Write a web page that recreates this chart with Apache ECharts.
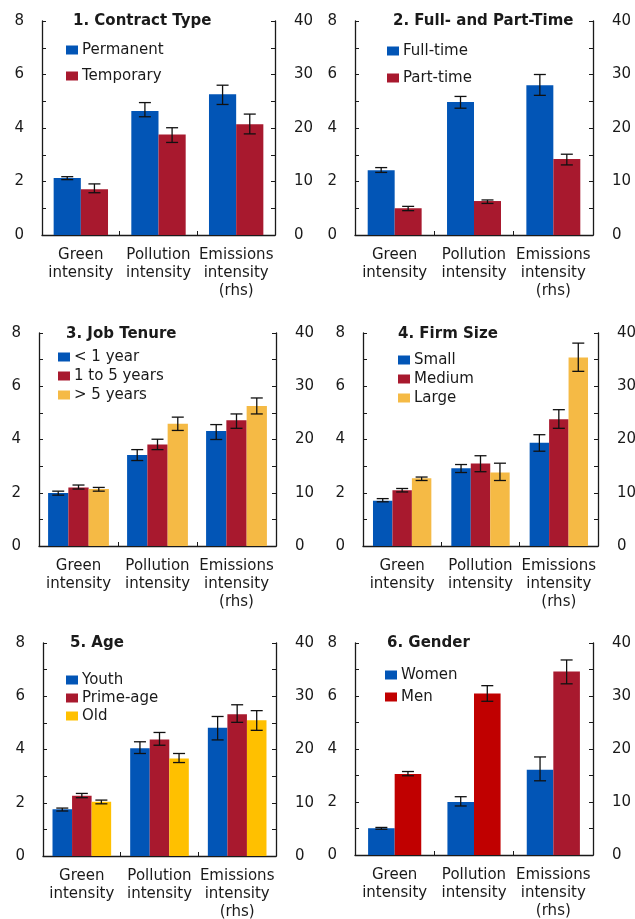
<!DOCTYPE html>
<html>
<head>
<meta charset="utf-8">
<script src="https://cdn.jsdelivr.net/npm/echarts@6/dist/echarts.min.js"></script>
<style>
  html, body { margin: 0; padding: 0; background: #ffffff; }
  #chart { width: 635px; height: 919px; }
</style>
</head>
<body>
<div id="chart"></div>
<script>
const categories = ['Green\nintensity', 'Pollution\nintensity', 'Emissions\nintensity\n(rhs)'];
const lhsTicks = [0, 2, 4, 6, 8];
const rhsTicks = [0, 10, 20, 30, 40];

// 1. Contract type (mean, lower and upper bound of the confidence band)
const permanentMean = [2.13, 4.64, 26.3];
const permanentLow  = [2.07, 4.42, 24.4];
const permanentHigh = [2.18, 4.95, 28.0];
const temporaryMean = [1.71, 3.76, 20.7];
const temporaryLow  = [1.58, 3.46, 18.9];
const temporaryHigh = [1.91, 4.01, 22.6];

// 2. Full- and part-time
const fullTimeMean = [2.42, 4.97, 28.0];
const fullTimeLow  = [2.34, 4.74, 26.1];
const fullTimeHigh = [2.52, 5.18, 30.0];
const partTimeMean = [1.00, 1.27, 14.2];
const partTimeLow  = [0.91, 1.18, 13.1];
const partTimeHigh = [1.07, 1.31, 15.1];

// 3. Job tenure
const under1Mean = [1.99, 3.42, 21.6];
const under1Low  = [1.91, 3.21, 20.0];
const under1High = [2.06, 3.62, 22.8];
const oneTo5Mean = [2.20, 3.81, 23.6];
const oneTo5Low  = [2.14, 3.62, 22.1];
const oneTo5High = [2.29, 4.01, 24.8];
const over5Mean  = [2.14, 4.59, 26.3];
const over5Low   = [2.06, 4.34, 24.8];
const over5High  = [2.20, 4.84, 27.8];

// 4. Firm size
const smallMean  = [1.70, 2.92, 19.4];
const smallLow   = [1.66, 2.76, 17.8];
const smallHigh  = [1.78, 3.06, 20.9];
const mediumMean = [2.09, 3.10, 23.8];
const mediumLow  = [2.03, 2.79, 22.1];
const mediumHigh = [2.16, 3.39, 25.6];
const largeMean  = [2.54, 2.76, 35.4];
const largeLow   = [2.46, 2.46, 32.8];
const largeHigh  = [2.59, 3.11, 38.1];

// 5. Age
const youthMean = [1.76, 4.05, 24.1];
const youthLow  = [1.69, 3.85, 21.8];
const youthHigh = [1.80, 4.29, 26.2];
const primeMean = [2.26, 4.38, 26.6];
const primeLow  = [2.19, 4.16, 25.1];
const primeHigh = [2.35, 4.64, 28.4];
const oldMean   = [2.04, 3.66, 25.5];
const oldLow    = [1.96, 3.51, 23.6];
const oldHigh   = [2.10, 3.85, 27.3];

// 6. Gender
const womenMean = [1.01, 2.00, 16.1];
const womenLow  = [0.97, 1.85, 14.0];
const womenHigh = [1.04, 2.20, 18.5];
const menMean   = [3.06, 6.09, 34.6];
const menLow    = [2.99, 5.80, 32.3];
const menHigh   = [3.15, 6.39, 36.8];

const panels = [
  { title: '1. Contract Type', groups: [
    { name: 'Permanent', mean: permanentMean, low: permanentLow, high: permanentHigh },
    { name: 'Temporary', mean: temporaryMean, low: temporaryLow, high: temporaryHigh }
  ]},
  { title: '2. Full- and Part-Time', groups: [
    { name: 'Full-time', mean: fullTimeMean, low: fullTimeLow, high: fullTimeHigh },
    { name: 'Part-time', mean: partTimeMean, low: partTimeLow, high: partTimeHigh }
  ]},
  { title: '3. Job Tenure', groups: [
    { name: '< 1 year', mean: under1Mean, low: under1Low, high: under1High },
    { name: '1 to 5 years', mean: oneTo5Mean, low: oneTo5Low, high: oneTo5High },
    { name: '> 5 years', mean: over5Mean, low: over5Low, high: over5High }
  ]},
  { title: '4. Firm Size', groups: [
    { name: 'Small', mean: smallMean, low: smallLow, high: smallHigh },
    { name: 'Medium', mean: mediumMean, low: mediumLow, high: mediumHigh },
    { name: 'Large', mean: largeMean, low: largeLow, high: largeHigh }
  ]},
  { title: '5. Age', groups: [
    { name: 'Youth', mean: youthMean, low: youthLow, high: youthHigh },
    { name: 'Prime-age', mean: primeMean, low: primeLow, high: primeHigh },
    { name: 'Old', mean: oldMean, low: oldLow, high: oldHigh }
  ]},
  { title: '6. Gender', groups: [
    { name: 'Women', mean: womenMean, low: womenLow, high: womenHigh },
    { name: 'Men', mean: menMean, low: menLow, high: menHigh }
  ]}
];

// ---- styling ----
const FONT = 'DejaVu Sans';
const INK = '#1a1a1a';
const BLUE = '#0255B6';
const RED = '#A8192E';
const AMBER = '#F5BA45';
const GOLD = '#FFC000';
const BRIGHT_RED = '#C00000';

// colours for the left-axis bars and for the right-axis (emissions) bars
const lhsColours = [[BLUE, RED], [BLUE, RED], [BLUE, RED, AMBER], [BLUE, RED, AMBER], [BLUE, RED, GOLD], [BLUE, BRIGHT_RED]];
const rhsColours = [[BLUE, RED], [BLUE, RED], [BLUE, RED, AMBER], [BLUE, RED, AMBER], [BLUE, RED, GOLD], [BLUE, RED]];

const frames = [
  { left: 42,  top: 21,  width: 233, height: 214, titleLeft: 73,  titleTop: 12,  legendLeft: 66,  legendTop: 42,  legendGap: 10, catGap: 0.30 },
  { left: 355, top: 21,  width: 238, height: 214, titleLeft: 393, titleTop: 12,  legendLeft: 387, legendTop: 43,  legendGap: 11, catGap: 0.32 },
  { left: 39,  top: 333, width: 237, height: 213, titleLeft: 66,  titleTop: 325, legendLeft: 58,  legendTop: 349, legendGap: 3,  catGap: 0.23 },
  { left: 363, top: 333, width: 235, height: 213, titleLeft: 398, titleTop: 325, legendLeft: 398, legendTop: 352, legendGap: 3,  catGap: 0.255 },
  { left: 43,  top: 643, width: 233, height: 213, titleLeft: 70,  titleTop: 634, legendLeft: 66,  legendTop: 672, legendGap: 2,  catGap: 0.245 },
  { left: 355, top: 643, width: 238, height: 212, titleLeft: 387, titleTop: 634, legendLeft: 385, legendTop: 667, legendGap: 6,  catGap: 0.33 }
];

const axisLineStyle = { color: INK, width: 1.3 };
const labelStyle = { fontFamily: FONT, fontSize: 15, color: INK };

const grids = [], xAxes = [], yAxes = [], titles = [], legends = [], series = [];

panels.forEach((panel, pi) => {
  const f = frames[pi];
  const n = panel.groups.length;

  grids.push({ left: f.left, top: f.top, width: f.width, height: f.height, containLabel: false, outerBoundsMode: 'none' });

  xAxes.push({
    type: 'category', gridIndex: pi, data: categories,
    axisLine: { show: true, lineStyle: axisLineStyle },
    axisTick: { show: true, inside: true, length: 4, lineStyle: { color: INK } },
    axisLabel: Object.assign({ interval: 0, margin: 11, lineHeight: 18 }, labelStyle),
    splitLine: { show: false }
  });

  yAxes.push({
    type: 'value', gridIndex: pi, position: 'left',
    min: lhsTicks[0], max: lhsTicks[lhsTicks.length - 1], interval: 1,
    axisLine: { show: true, lineStyle: axisLineStyle },
    axisTick: { show: true, inside: true, length: 4, lineStyle: { color: INK } },
    axisLabel: Object.assign({ margin: 18, formatter: v => (lhsTicks.includes(v) ? String(v) : '') }, labelStyle),
    splitLine: { show: false }
  });
  yAxes.push({
    type: 'value', gridIndex: pi, position: 'right',
    min: rhsTicks[0], max: rhsTicks[rhsTicks.length - 1], interval: 5,
    axisLine: { show: true, lineStyle: axisLineStyle },
    axisTick: { show: true, inside: true, length: 4, lineStyle: { color: INK } },
    axisLabel: Object.assign({ margin: 19, formatter: v => (rhsTicks.includes(v) ? String(v) : '') }, labelStyle),
    splitLine: { show: false }
  });

  titles.push({
    text: panel.title, left: f.titleLeft, top: f.titleTop, padding: 0,
    textStyle: { fontFamily: FONT, fontSize: 15, fontWeight: 'bold', color: INK, lineHeight: 18 }
  });

  legends.push({
    data: panel.groups.map(g => g.name),
    orient: 'vertical', left: f.legendLeft, top: f.legendTop, padding: 0,
    itemGap: f.legendGap, itemWidth: 12, itemHeight: 9, icon: 'rect',
    selectedMode: false,
    textStyle: { fontFamily: FONT, fontSize: 15, color: INK, lineHeight: 16, padding: [0, 0, 0, -1] }
  });

  panel.groups.forEach((g, gi) => {
    const stack = 'p' + pi + 'g' + gi;
    // green and pollution intensity on the left axis
    series.push({
      type: 'bar', name: g.name, xAxisIndex: pi, yAxisIndex: 2 * pi, stack: stack,
      data: [g.mean[0], g.mean[1], '-'],
      barGap: 0, barCategoryGap: (f.catGap * 100) + '%',
      itemStyle: { color: lhsColours[pi][gi] }, silent: true
    });
    // emissions intensity on the right axis
    series.push({
      type: 'bar', name: g.name, xAxisIndex: pi, yAxisIndex: 2 * pi + 1, stack: stack,
      data: ['-', '-', g.mean[2]],
      barGap: 0, barCategoryGap: (f.catGap * 100) + '%',
      itemStyle: { color: rhsColours[pi][gi] }, silent: true
    });
  });

  // whiskers: one custom series per value axis
  [0, 1].forEach(side => {
    const cats = side === 0 ? [0, 1] : [2];
    const data = [];
    panel.groups.forEach((g, gi) => {
      cats.forEach(c => data.push([c, g.low[c], g.high[c], gi]));
    });
    series.push({
      type: 'custom', xAxisIndex: pi, yAxisIndex: 2 * pi + side, z: 5, silent: true,
      encode: { x: 0, y: [1, 2] },
      data: data,
      renderItem: function (params, api) {
        const c = api.value(0), lo = api.value(1), hi = api.value(2), gi = api.value(3);
        const band = api.size([1, 0])[0];
        const barW = band * (1 - f.catGap) / n;
        const pLo = api.coord([c, lo]);
        const pHi = api.coord([c, hi]);
        const x = pLo[0] + (gi - (n - 1) / 2) * barW;
        const cap = 6;
        const style = { stroke: '#111111', lineWidth: 1.3 };
        return {
          type: 'group',
          children: [
            { type: 'line', shape: { x1: x, y1: pLo[1], x2: x, y2: pHi[1] }, style: style },
            { type: 'line', shape: { x1: x - cap, y1: pLo[1], x2: x + cap, y2: pLo[1] }, style: style },
            { type: 'line', shape: { x1: x - cap, y1: pHi[1], x2: x + cap, y2: pHi[1] }, style: style }
          ]
        };
      }
    });
  });
});

const chart = echarts.init(document.getElementById('chart'), null, { renderer: 'canvas' });
chart.setOption({
  backgroundColor: '#ffffff',
  animation: false,
  title: titles,
  legend: legends,
  grid: grids,
  xAxis: xAxes,
  yAxis: yAxes,
  series: series
});
</script>
</body>
</html>
